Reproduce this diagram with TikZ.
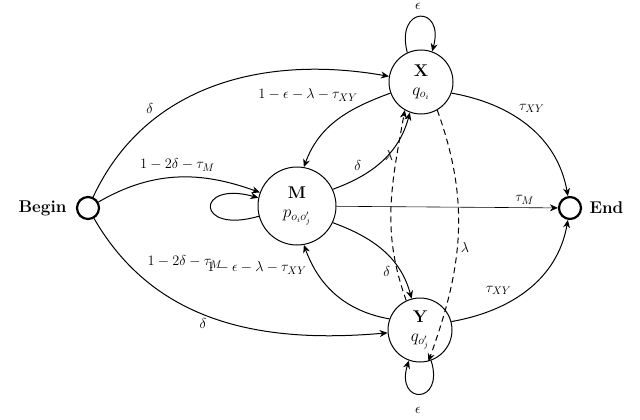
\documentclass[tikz,border=0pt]{standalone}
\usetikzlibrary{arrows.meta}
\begin{document}
\begin{tikzpicture}[x=1pt,y=-1pt,
  st/.style={circle,draw,line width=1pt,minimum size=#1,inner sep=0pt,align=center,font=\fontsize{17}{18}\selectfont},
  term/.style={circle,draw,line width=2.2pt,minimum size=22pt,inner sep=0pt},
  ar/.style={-{Stealth[length=8pt,width=7pt]},line width=1pt},
  dar/.style={ar,dashed,dash pattern=on 6pt off 4pt},
  lb/.style={font=\fontsize{15}{17}\selectfont}]
\useasboundingbox (0,0) rectangle (640,420);
\node[term] (b) at (88,208) {};
\node[term] (e) at (570,208) {};
\node[font=\fontsize{17}{18}\selectfont\bfseries,anchor=east] (bl) at (70,208) {Begin};
\node[font=\fontsize{17}{18}\selectfont\bfseries,anchor=west] (el) at (586,208) {End};
\node[st=78pt] (m) at (297,206) {\textbf{M}\\[1pt]$p_{o_io'_j}$};
\node[st=64pt] (x) at (421,82) {\textbf{X}\\[1pt]$q_{o_i}$};
\node[st=64pt] (y) at (420,330) {\textbf{Y}\\[1pt]$q_{o'_j}$};
% Begin edges
\draw[ar] (b) to[out=65,in=170] node[lb,pos=0.3,above left] {$\delta$} (x);
\draw[ar] (b) to[out=30,in=160] node[lb,pos=0.5,above=2pt] {$1-2\delta-\tau_M$} (m);
\draw[ar] (b) to[out=-60,in=185] node[lb,pos=0.45,below] {$\delta$} (y);
% M loop
\draw[ar] (m.195) .. controls (195,235) and (195,180) .. (m.168);
\node[lb] (ml) at (185,262) {$1-2\delta-\tau_M$};
% X <-> M
\draw[ar] (x.200) to[out=200,in=70] node[lb,pos=0.25,above left] {$1-\epsilon-\lambda-\tau_{XY}$} (m.80);
\draw[ar] (m.25) to[out=20,in=255] node[lb,pos=0.3,above left] {$\delta$} (x.250);
% M <-> Y
\draw[ar] (m.-25) to[out=-20,in=105] node[lb,pos=0.65,below left] {$\delta$} (y.105);
\draw[ar] (y.160) to[out=170,in=-70] node[lb,pos=0.8,left=4pt] {$1-\epsilon-\lambda-\tau_{XY}$} (m.-80);
% dashed X <-> Y
\draw[dar] (y.115) to[out=110,in=260] node[lb,pos=0.78,left] {$\lambda$} (x.240);
\draw[dar] (x.-60) to[out=-70,in=70] node[lb,pos=0.55,right] {$\lambda$} (y.-75);
% to End
\draw[ar,line width=0.6pt] (m) -- node[lb,pos=0.85,above] {$\tau_M$} (e);
\draw[ar] (x.-20) to[out=-10,in=100] node[lb,pos=0.4,above right] {$\tau_{XY}$} (e);
\draw[ar] (y.15) to[out=10,in=-100] node[lb,pos=0.4,above left] {$\tau_{XY}$} (e);
% self loops
\draw[ar] (x.115) .. controls (395,5) and (445,5) .. (x.70);
\node[lb] (xl) at (418,6) {$\epsilon$};
\draw[ar] (y.-70) .. controls (445,405) and (395,405) .. (y.-110);
\node[lb] (yl) at (418,410) {$\epsilon$};
\end{tikzpicture}
\end{document}
